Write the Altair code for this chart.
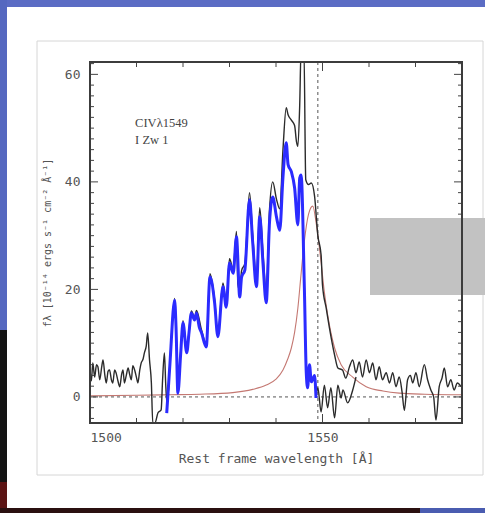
import altair as alt
import pandas as pd

# Observed C IV 1549 profile of I Zw 1 (black)
obs_wave = [1500.0, 1500.3, 1500.6, 1501.0, 1501.4, 1501.7, 1502.1, 1502.5, 1502.8, 1503.2,
            1503.5, 1503.9, 1504.2, 1504.6, 1504.9, 1505.3, 1505.6, 1506.0, 1506.4, 1506.8,
            1507.1, 1507.4, 1507.8, 1508.2, 1508.5, 1508.9, 1509.2, 1509.6, 1510.0, 1510.3,
            1510.7, 1511.0, 1511.4, 1511.7, 1512.1, 1512.4, 1512.8, 1513.2, 1513.5, 1514.0,
            1514.6, 1515.3, 1515.6, 1516.0, 1516.3, 1516.6, 1517.2, 1518.2, 1518.5, 1518.9,
            1520.0, 1520.8, 1521.8, 1522.5, 1522.9, 1524.0, 1525.0, 1525.8, 1526.8, 1527.5,
            1528.6, 1529.3, 1530.0, 1530.8, 1531.5, 1531.8, 1532.2, 1532.6, 1533.3, 1534.3,
            1535.0, 1535.8, 1536.5, 1537.2, 1537.9, 1538.6, 1539.3, 1540.1, 1540.8, 1541.5,
            1542.2, 1542.6, 1543.3, 1544.0, 1544.4, 1544.7, 1545.1, 1545.4, 1546.0, 1546.4,
            1547.0, 1547.6, 1548.3, 1549.0, 1549.7, 1550.0, 1550.8, 1551.5, 1552.6, 1553.3,
            1554.3, 1555.0, 1555.8, 1556.5, 1557.2, 1557.9, 1558.6, 1559.4, 1560.1, 1560.8,
            1561.5, 1562.2, 1562.9, 1563.7, 1564.4, 1565.1, 1565.8, 1566.5, 1567.1, 1567.6,
            1568.3, 1568.9, 1569.4, 1570.1, 1570.8, 1571.9, 1572.6, 1573.3, 1573.9, 1574.4,
            1575.1, 1575.7, 1576.2, 1576.9, 1577.6, 1578.3, 1579.0, 1579.8]
obs_flux = [5.0, 3.0, 6.3, 3.7, 6.0, 5.6, 3.2, 5.5, 6.9, 4.0,
            2.6, 4.8, 5.0, 3.2, 2.6, 5.0, 4.5, 3.0, 1.9, 4.2,
            5.0, 2.6, 4.0, 5.4, 4.3, 3.2, 5.8, 5.0, 3.6, 2.6,
            5.0, 6.3, 7.0, 8.2, 9.5, 11.9, 6.9, 2.6, -4.8, -4.8,
            -3.0, -2.4, 3.0, 8.2, 2.0, -1.5, 6.6, 18.3, 13.3, 1.0,
            14.2, 8.6, 16.0, 14.8, 16.1, 12.4, 9.8, 22.9, 18.1, 11.8,
            21.2, 17.4, 25.7, 23.8, 30.8, 21.0, 19.7, 23.5, 24.8, 38.0,
            30.0, 22.0, 35.2, 26.8, 19.6, 34.8, 40.0, 36.8, 35.0, 46.0,
            53.8, 52.5, 51.5, 50.5, 47.5, 46.6, 54.3, 65.0, 65.0, 40.4,
            39.5, 39.8, 37.3, 30.0, 26.4, 20.8, 16.5, 12.8, 7.8, 5.4,
            5.0, 3.5, 5.6, 6.9, 4.5, 6.5, 3.7, 6.9, 4.5, 6.3,
            3.2, 5.6, 3.2, 4.5, 2.6, 4.5, 1.9, 3.7, 1.0, -2.5,
            3.2, 4.0, 2.6, 4.5, 1.9, 6.0, 3.2, 1.3, 0.0, -4.3,
            1.9, 3.5, 5.4, 1.9, 3.2, 1.3, 2.6, 1.9]

# Blue-side residual after removing the model component (blue)
blue_wave = [1516.5, 1517.2, 1518.2, 1518.5, 1518.9, 1519.5, 1520.0, 1520.8, 1521.3, 1521.8,
             1522.5, 1522.9, 1523.5, 1524.0, 1525.0, 1525.8, 1526.8, 1527.5, 1528.6, 1529.3,
             1530.0, 1530.8, 1531.5, 1532.2, 1532.6, 1533.3, 1534.3, 1535.0, 1535.8, 1536.5,
             1537.2, 1537.9, 1538.6, 1539.3, 1540.1, 1540.8, 1541.5, 1542.2, 1542.6, 1543.3,
             1544.0, 1544.7, 1545.1, 1545.4, 1546.1, 1546.5, 1546.8, 1547.2, 1547.6, 1548.3,
             1548.6]
blue_flux = [-3.0, 6.3, 18.0, 13.0, 0.7, 8.0, 13.8, 8.2, 12.0, 15.6,
             14.3, 15.6, 13.0, 11.9, 9.3, 22.3, 17.5, 11.2, 20.5, 16.7,
             24.9, 23.0, 29.8, 18.6, 22.3, 23.6, 36.7, 28.6, 20.5, 33.5,
             24.9, 17.5, 32.4, 37.2, 33.5, 31.0, 40.9, 47.3, 43.2, 41.9,
             38.9, 32.0, 40.7, 41.3, 20.3, 4.7, 1.7, 6.0, 2.8, 4.0,
             -0.2]

# Residual continued red-ward of line centre (black)
resid_wave = [1548.6, 1549.0, 1549.7, 1550.4, 1551.1, 1551.8, 1552.6, 1553.3, 1554.0, 1554.4,
              1555.4, 1556.5, 1557.2]
resid_flux = [-0.2, 1.7, -2.8, 2.2, -2.0, 1.7, -3.9, 2.2, -0.2, 1.3,
              -1.1, 1.3, 3.7]

# Model profile (red)
model_wave = [1500.0, 1510.0, 1517.0, 1523.6, 1530.7, 1535.0, 1537.9, 1540.0, 1541.5, 1542.5,
              1543.3, 1544.0, 1544.7, 1545.3, 1546.1, 1547.0, 1547.9, 1548.7, 1549.7, 1550.4,
              1551.1, 1552.6, 1554.0, 1556.5, 1559.4, 1563.0, 1566.5, 1572.0, 1580.0]
model_flux = [0.2, 0.3, 0.4, 0.5, 0.8, 1.4, 2.2, 3.3, 5.0, 7.0,
              9.1, 12.0, 16.5, 22.0, 29.0, 34.0, 35.5, 32.0, 25.0, 19.5,
              15.3, 9.1, 6.0, 3.7, 1.9, 1.1, 0.7, 0.5, 0.4]

line_centre = 1549
x_major = [1500, 1550]
x_minor = [1510, 1520, 1530, 1540, 1560, 1570]
y_major = [0, 20, 40, 60]
y_minor = [v for v in range(-4, 63, 2) if v not in y_major]

W, H = 372, 361
PAD = {"left": 90, "top": 62, "right": 23, "bottom": 90}

xs = alt.Scale(domain=[1500, 1580], nice=False, zero=False)
ys = alt.Scale(domain=[-4.85, 62.3], nice=False, zero=False)

LABEL_FONT = "DejaVu Sans Mono"
xaxis = alt.Axis(values=x_major, format="d", domain=False, ticks=False, grid=False, zindex=1,
                 labelFont=LABEL_FONT, labelFontSize=13, labelColor="#555555", labelPadding=8,
                 title="Rest frame wavelength [\u00c5]", titleFont=LABEL_FONT, titleFontSize=13,
                 titleFontWeight="normal", titleColor="#555555", titlePadding=8)
yaxis = alt.Axis(values=y_major, format="d", domain=False, ticks=False, grid=False, zindex=1,
                 labelFont=LABEL_FONT, labelFontSize=13, labelColor="#555555", labelPadding=10,
                 title="f\u03bb  [10\u207b\u00b9\u2074 ergs s\u207b\u00b9 cm\u207b\u00b2 \u00c5\u207b\u00b9]",
                 titleFont=LABEL_FONT, titleFontSize=10, titleFontWeight="normal",
                 titleColor="#555555", titlePadding=12)

X = alt.X("w:Q", scale=xs, axis=xaxis)
Y = alt.Y("f:Q", scale=ys, axis=yaxis)


def frame(x, x2, y, y2, **kw):
    return alt.Chart(pd.DataFrame({"k": [0]})).mark_rect(**kw).encode(
        x=alt.value(x), x2=alt.value(x2), y=alt.value(y), y2=alt.value(y2))


# slide surroundings
slide = [
    frame(-90, 395, -62, -55, color="#5b6cc4"),
    frame(-90, -83, -62, 268, color="#5568c0"),
    frame(-90, -83, 268, 451, color="#141414"),
    frame(-90, -83, 420, 451, color="#7a1414", opacity=0.7),
    frame(-90, 330, 446, 451, color="#2a1010"),
    frame(330, 395, 446, 451, color="#4a5cb0"),
    frame(-53, 393, -21, 413, fill="white", stroke="#d6d6d6", strokeWidth=1),
    frame(0, W, 0, H, fill="white"),
]


def series(wave, flux):
    return pd.DataFrame({"w": wave, "f": flux})


model = alt.Chart(series(model_wave, model_flux)).mark_line(
    color="#c47872", strokeWidth=1.1, clip=True, interpolate="monotone").encode(x=X, y=Y)
obs = alt.Chart(series(obs_wave, obs_flux)).mark_line(
    color="#2b2b2b", strokeWidth=1.4, clip=True, interpolate="monotone").encode(x=X, y=Y)
resid = alt.Chart(series(resid_wave, resid_flux)).mark_line(
    color="#2b2b2b", strokeWidth=1.4, clip=True, interpolate="monotone").encode(x=X, y=Y)
blue = alt.Chart(series(blue_wave, blue_flux)).mark_line(
    color="#2b2bff", strokeWidth=3, clip=True, interpolate="monotone").encode(x=X, y=Y)

zero = alt.Chart(pd.DataFrame({"f": [0]})).mark_rule(
    color="#555555", strokeDash=[3, 3], strokeWidth=1).encode(y=Y)
centre = alt.Chart(pd.DataFrame({"w": [line_centre]})).mark_rule(
    color="#555555", strokeDash=[3, 3], strokeWidth=1).encode(x=X)

label = alt.Chart(pd.DataFrame({"w": [1509.7, 1509.7], "f": [51.0, 47.8],
                                "t": ["CIV\u03bb1549", "I Zw 1"]})).mark_text(
    align="left", baseline="middle", font="Liberation Serif", fontSize=12.5,
    color="#444444").encode(x=X, y=Y, text="t:N")


# inward tick marks on all four sides
def xticks(vals, length):
    d = pd.DataFrame({"w": vals})
    bot = alt.Chart(d).mark_rule(color="#444444", strokeWidth=1).encode(
        x=X, y=alt.value(H), y2=alt.value(H - length))
    top = alt.Chart(d).mark_rule(color="#444444", strokeWidth=1).encode(
        x=X, y=alt.value(0), y2=alt.value(length))
    return [bot, top]


def yticks(vals, length):
    d = pd.DataFrame({"f": vals})
    left = alt.Chart(d).mark_rule(color="#444444", strokeWidth=1).encode(
        y=Y, x=alt.value(0), x2=alt.value(length))
    right = alt.Chart(d).mark_rule(color="#444444", strokeWidth=1).encode(
        y=Y, x=alt.value(W), x2=alt.value(W - length))
    return [left, right]


ticks = xticks(x_minor, 5) + xticks(x_major, 9) + yticks(y_minor, 4) + yticks(y_major, 8)

patch = frame(280, 395, 156, 233, color="#c2c2c2")
border = alt.Chart(pd.DataFrame({"k": [0]})).mark_rect(
    fill=None, stroke="#3c3c3c", strokeWidth=2).encode(
    x=alt.value(0), x2=alt.value(W), y=alt.value(0), y2=alt.value(H))

chart = alt.layer(
    *slide, model, zero, centre, obs, resid, blue, label, *ticks, patch, border
).properties(
    width=W, height=H,
    autosize=alt.AutoSizeParams(type="none"),
    padding=PAD,
    background="white",
).configure_view(stroke=None)

chart.save("out.html", embed_options={"renderer": "svg", "actions": False})
